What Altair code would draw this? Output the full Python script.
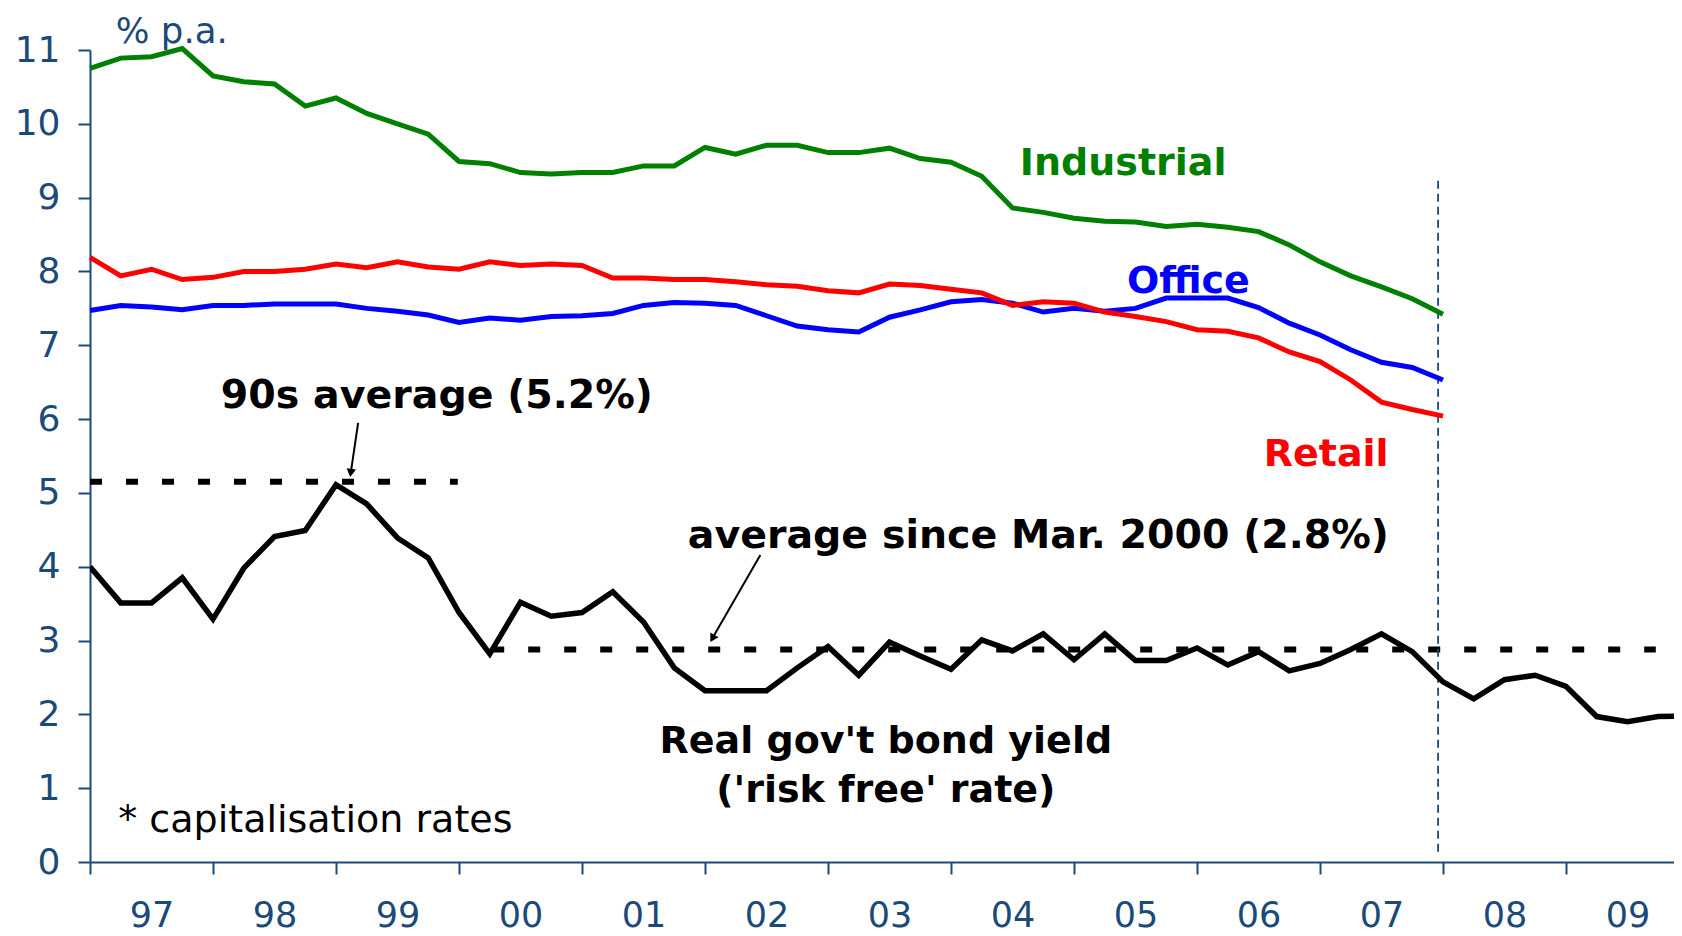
import altair as alt
import pandas as pd

# ---------------- data ----------------
quarters = [f"{y}Q{q}" for y in range(1997, 2011) for q in range(1, 5)]

industrial = [10.75, 10.89, 10.91, 11.02, 10.65, 10.57, 10.54, 10.24, 10.35, 10.14,
              10.00, 9.86, 9.49, 9.46, 9.34, 9.32, 9.34, 9.34, 9.43, 9.43,
              9.68, 9.59, 9.71, 9.71, 9.61, 9.61, 9.67, 9.53, 9.48, 9.29,
              8.86, 8.80, 8.72, 8.68, 8.67, 8.61, 8.64, 8.60, 8.54, 8.36,
              8.13, 7.94, 7.79, 7.63, 7.42]
office = [7.47, 7.54, 7.52, 7.48, 7.54, 7.54, 7.56, 7.56, 7.56, 7.50,
          7.46, 7.41, 7.31, 7.37, 7.34, 7.39, 7.40, 7.43, 7.54, 7.58,
          7.57, 7.54, 7.40, 7.26, 7.21, 7.18, 7.38, 7.48, 7.59, 7.62,
          7.57, 7.45, 7.50, 7.46, 7.50, 7.64, 7.64, 7.64, 7.51, 7.30,
          7.14, 6.94, 6.77, 6.70, 6.53]
retail = [8.19, 7.94, 8.03, 7.89, 7.92, 8.00, 8.00, 8.03, 8.10, 8.05,
          8.13, 8.06, 8.03, 8.13, 8.08, 8.10, 8.08, 7.91, 7.91, 7.89,
          7.89, 7.86, 7.82, 7.80, 7.74, 7.71, 7.83, 7.81, 7.76, 7.71,
          7.54, 7.59, 7.57, 7.45, 7.39, 7.32, 7.21, 7.19, 7.10, 6.91,
          6.78, 6.53, 6.23, 6.13, 6.04]
bond_yield = [4.00, 3.51, 3.51, 3.85, 3.29, 3.98, 4.41, 4.49, 5.11, 4.85,
              4.39, 4.12, 3.38, 2.82, 3.52, 3.33, 3.38, 3.66, 3.25, 2.63,
              2.32, 2.32, 2.32, 2.63, 2.92, 2.53, 2.98, 2.79, 2.61, 3.01,
              2.86, 3.09, 2.74, 3.09, 2.73, 2.73, 2.90, 2.67, 2.85, 2.59,
              2.69, 2.88, 3.09, 2.85, 2.44, 2.21, 2.47, 2.53, 2.38, 1.97,
              1.90, 1.97, 1.98]

series_names = ["Industrial", "Office", "Retail"]
series_colors = ["#008000", "#0000FF", "#FF0000"]

avg_labels = ["90s average", "since Mar. 2000"]
avg_start = [1997.0, 2000.27]
avg_end = [1999.99, 2009.73]
avg_value = [5.15, 2.88]

forecast_x = [2007.96]
forecast_y = [0.14]
forecast_y2 = [9.28]

arrow_x = [1999.18, 2002.45]
arrow_y = [5.95, 4.16]
arrow_x2 = [1999.12, 2002.06]
arrow_y2 = [5.27, 3.03]
arrow_angle = [188, 210]

bold_texts = ["Industrial", "Office", "Retail", "90s average (5.2%)",
              "average since Mar. 2000 (2.8%)", "Real gov't bond yield",
              "('risk free' rate)"]
bold_x = [2005.40, 2005.93, 2007.05, 1999.82, 2004.71, 2003.47, 2003.47]
bold_y = [9.45, 7.86, 5.51, 6.31, 4.42, 1.62, 0.96]
bold_sizes = [38, 38, 38, 39.5, 39.5, 38, 38]
bold_colors = ["#008000", "#0000FF", "#FF0000", "#000000", "#000000",
               "#000000", "#000000"]

note_texts = ["% p.a.", "* capitalisation rates"]
note_x = [1997.21, 1997.23]
note_y = [11.25, 0.55]
note_sizes = [35.5, 38]
note_colors = ["#1B4A7A", "#000000"]

year_ticks = list(range(1997, 2010))
y_ticks = list(range(0, 12))

# ---------------- geometry / style ----------------
NAVY = "#1B4A7A"
FONT = "DejaVu Sans"
W, H = 1584, 812
YEAR_PX = 123.0
XMIN = 1997.0
XMAX = XMIN + W / YEAR_PX


def qpos(label):
    return int(label[:4]) + (int(label[-1]) - 1) / 4


rows = []
for name, vals in zip(series_names, [industrial, office, retail]):
    for q, v in zip(quarters[:len(vals)], vals):
        rows.append({"t": qpos(q), "v": v, "series": name})
cap_df = pd.DataFrame(rows)
bond_df = pd.DataFrame({"t": [qpos(q) for q in quarters[:len(bond_yield)]],
                        "v": bond_yield})
avg_df = pd.DataFrame({"name": avg_labels, "x": avg_start, "x2": avg_end,
                       "y": avg_value})
vline_df = pd.DataFrame({"x": forecast_x, "y": forecast_y, "y2": forecast_y2})
arrow_df = pd.DataFrame({"x": arrow_x, "y": arrow_y, "x2": arrow_x2,
                         "y2": arrow_y2, "angle": arrow_angle})
bold_df = pd.DataFrame({"text": bold_texts, "x": bold_x, "y": bold_y,
                        "c": bold_colors, "fs": bold_sizes})
note_df = pd.DataFrame({"text": note_texts, "x": note_x, "y": note_y,
                        "c": note_colors, "fs": note_sizes})

x_scale = alt.Scale(domain=[XMIN, XMAX], nice=False, zero=False)
y_scale = alt.Scale(domain=[0, 11], nice=False, zero=False)

x_axis = alt.Axis(values=year_ticks,
                  labelExpr="substring(toString(datum.value), 2)",
                  labelOffset=YEAR_PX / 2, tickSize=12, tickWidth=2,
                  tickColor=NAVY, domainColor=NAVY, domainWidth=2,
                  labelColor=NAVY, labelFont=FONT, labelFontSize=35,
                  labelPadding=24, grid=False, title=None,
                  labelFlush=False, labelOverlap=False, labelBound=False)
y_axis = alt.Axis(values=y_ticks, tickSize=12, tickWidth=2, tickColor=NAVY,
                  domainColor=NAVY, domainWidth=2, labelColor=NAVY,
                  labelFont=FONT, labelFontSize=36, labelPadding=18,
                  grid=False, title=None, labelFlush=False,
                  labelOverlap=False, labelBound=False)


def X(field):
    return alt.X(f"{field}:Q", scale=x_scale, axis=x_axis)


def Y(field):
    return alt.Y(f"{field}:Q", scale=y_scale, axis=y_axis)


cap_lines = alt.Chart(cap_df).mark_line(strokeWidth=5).encode(
    x=X("t"), y=Y("v"),
    color=alt.Color("series:N", scale=alt.Scale(domain=series_names,
                                                range=series_colors),
                    legend=None),
    detail="series:N",
)

bond_line = alt.Chart(bond_df).mark_line(strokeWidth=5.5, color="#000000",
                                         clip=True).encode(
    x=X("t"), y=Y("v"))

avg_lines = alt.Chart(avg_df).mark_rule(strokeWidth=6, color="#000000",
                                        strokeDash=[12, 24],
                                        strokeCap="butt").encode(
    x=X("x"), x2="x2:Q", y=Y("y"))

vline = alt.Chart(vline_df).mark_rule(strokeWidth=1.8, color=NAVY,
                                      strokeDash=[8, 5]).encode(
    x=X("x"), y=Y("y"), y2="y2:Q")

arrow_lines = alt.Chart(arrow_df).mark_rule(strokeWidth=2,
                                            color="#000000").encode(
    x=X("x"), y=Y("y"), x2="x2:Q", y2="y2:Q")

arrow_heads = alt.Chart(arrow_df).mark_point(shape="triangle-up", filled=True,
                                             size=90, color="#000000",
                                             opacity=1).encode(
    x=X("x2"), y=Y("y2"), angle=alt.Angle("angle:Q", scale=None))

bold_text = alt.Chart(bold_df).mark_text(font=FONT, fontWeight="bold",
                                         align="center",
                                         baseline="middle").encode(
    x=X("x"), y=Y("y"), text="text:N", color=alt.Color("c:N", scale=None),
    size=alt.Size("fs:Q", scale=None))

note_text = alt.Chart(note_df).mark_text(font=FONT, align="left",
                                         baseline="middle").encode(
    x=X("x"), y=Y("y"), text="text:N", color=alt.Color("c:N", scale=None),
    size=alt.Size("fs:Q", scale=None))

chart = alt.layer(
    avg_lines, vline, cap_lines, bond_line, arrow_lines, arrow_heads,
    bold_text, note_text,
).properties(
    width=W, height=H,
    autosize=alt.AutoSizeParams(type="none"),
    padding={"left": 82, "top": 42, "right": 0, "bottom": 74},
    background="white",
).configure_view(stroke=None)

chart.save("out.html", embed_options={"renderer": "svg", "actions": False})
